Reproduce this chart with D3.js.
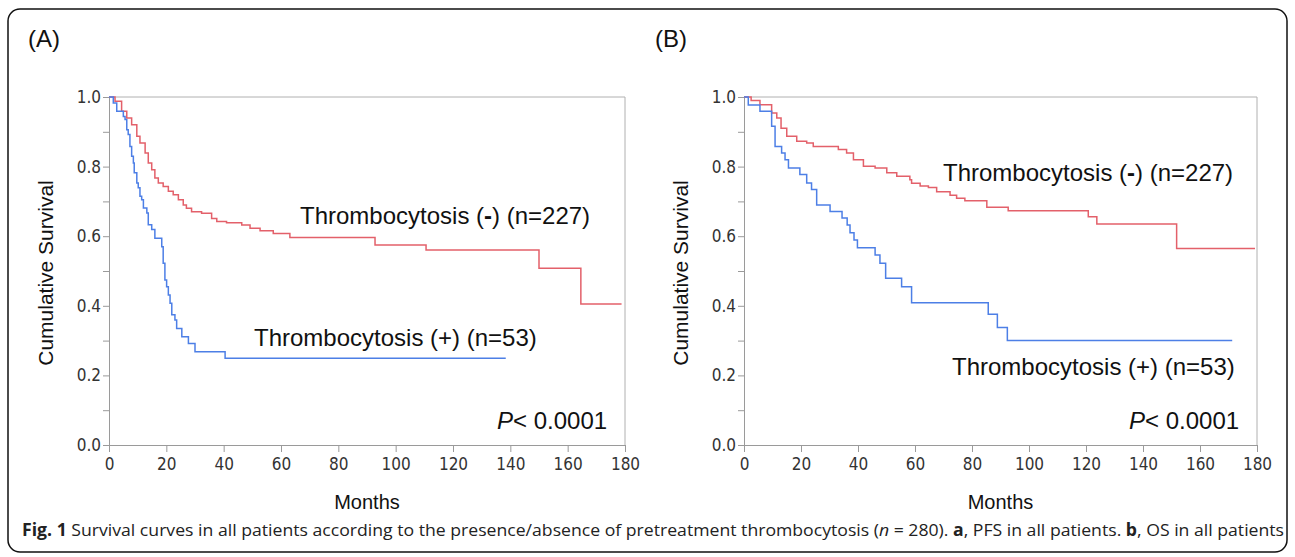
<!DOCTYPE html>
<meta charset="utf-8">
<style>
body { margin: 0; background: #fff; }
.axis text { font-family: "DejaVu Sans Condensed", "DejaVu Sans", sans-serif; font-size: 17px; fill: #333; }
.axis line, .axis path { stroke: #9a9a9a; }
.lbl { font-family: "Liberation Sans", Arial, sans-serif; fill: #111; }
</style>
<body>
<script src="https://d3js.org/d3.v7.min.js"></script>
<script>

// values: [month, survival] steps
var monthTicks = [0, 20, 40, 60, 80, 100, 120, 140, 160, 180];
var survTicks = [0, 0.2, 0.4, 0.6, 0.8, 1.0];

var pfsNeg = [[0,1],[2.1,0.988],[4.4,0.959],[6.2,0.94],[7.9,0.92],[9.7,0.887],[10.8,0.868],
  [12.6,0.839],[13.7,0.81],[14.9,0.791],[16,0.767],[17.2,0.753],[18.9,0.743],[20.7,0.729],
  [22.4,0.719],[24.2,0.705],[25.9,0.69],[27,0.68],[28.8,0.67],[32.3,0.666],[35.8,0.651],
  [37.6,0.642],[41,0.639],[46.3,0.632],[49.2,0.623],[52.7,0.616],[57.3,0.608],[63.1,0.596],
  [92.8,0.575],[110.6,0.56],[150,0.508],[164.6,0.405],[178.8,0.405]];
var pfsPos = [[0,1],[1.5,0.983],[2.7,0.959],[5,0.944],[5.6,0.935],[6.2,0.906],[6.7,0.892],
  [7.3,0.858],[7.9,0.83],[8.5,0.81],[8.8,0.782],[9.7,0.753],[10.2,0.739],[10.8,0.715],
  [11.4,0.705],[12,0.681],[13.2,0.667],[13.7,0.633],[14.9,0.619],[16,0.594],[18.4,0.57],
  [18.9,0.522],[19.5,0.474],[20.1,0.455],[20.7,0.431],[21.3,0.407],[21.9,0.374],[23,0.359],
  [23.6,0.335],[25.4,0.311],[27.7,0.292],[30,0.268],[40.5,0.249],[138.4,0.249]];
var osNeg = [[0,1],[2.5,0.99],[5.6,0.978],[9.7,0.954],[11.5,0.94],[13,0.91],[15,0.887],
  [18.5,0.873],[22,0.868],[24.3,0.858],[33.1,0.849],[36,0.839],[38.4,0.82],[41.9,0.801],
  [46,0.796],[50.1,0.782],[53.6,0.772],[58.2,0.762],[58.8,0.752],[61.8,0.744],[64.7,0.74],
  [67.6,0.728],[72.3,0.718],[74.6,0.709],[77.5,0.702],[85.2,0.683],[92.7,0.673],
  [120.8,0.656],[123.8,0.635],[151.8,0.565],[179.3,0.565]];
var osPos = [[0,1],[1.5,0.977],[5.6,0.959],[9.7,0.916],[10.9,0.858],[13.2,0.839],[14.4,0.82],
  [15.6,0.796],[19.6,0.777],[22,0.753],[23.7,0.734],[25.5,0.69],[30.2,0.671],[34.4,0.652],
  [36.2,0.632],[37.2,0.61],[38.6,0.589],[39.8,0.567],[46,0.546],[47.7,0.522],[49.7,0.479],
  [55.3,0.455],[58.8,0.409],[85.7,0.376],[88.9,0.338],[92.4,0.30],[171.3,0.30]];

var red = "#e3606a", blue = "#4d7fe6";

var svg = d3.select("body").append("svg")
    .attr("width", 1295)
    .attr("height", 557);

svg.append("rect")
    .attr("x", 8).attr("y", 9)
    .attr("width", 1279).attr("height", 543)
    .attr("rx", 12)
    .attr("fill", "none")
    .attr("stroke", "#111")
    .attr("stroke-width", 1.5);

function panel(opt) {
  var x = d3.scaleLinear().domain([0, 180]).range([opt.x0, opt.x1]);
  var y = d3.scaleLinear().domain([0, 1]).range([445, 97]);
  var g = svg.append("g");

  // frame
  g.append("path")
      .attr("d", "M" + x(0) + "," + y(1) + "H" + x(180) + "V" + y(0))
      .attr("fill", "none")
      .attr("stroke", "#b0b0b0");

  g.append("g")
      .attr("class", "axis")
      .attr("transform", "translate(0," + y(0) + ")")
      .call(d3.axisBottom(x).tickValues(monthTicks).tickSize(7).tickPadding(6).tickSizeOuter(0));

  g.append("g")
      .attr("class", "axis")
      .attr("transform", "translate(" + x(0) + ",0)")
      .call(d3.axisLeft(y).tickValues(d3.range(0, 1.01, 0.1)).tickSize(6).tickPadding(2).tickSizeOuter(0)
        .tickFormat(function(d) {
          var r = Math.round(d * 10);
          return r % 2 ? "" : d3.format(".1f")(d);
        }));

  var line = d3.line()
      .x(function(d) { return x(d[0]); })
      .y(function(d) { return y(d[1]); })
      .curve(d3.curveStepAfter);

  [[opt.neg, red], [opt.pos, blue]].forEach(function(s) {
    g.append("path")
        .datum(s[0])
        .attr("fill", "none")
        .attr("stroke", s[1])
        .attr("stroke-width", 1.5)
        .attr("d", line);
  });

  g.append("text").attr("class", "lbl")
      .attr("x", opt.tag[0]).attr("y", 47)
      .attr("font-size", 24)
      .text(opt.tag[1]);

  g.append("text").attr("class", "lbl")
      .attr("x", (opt.x0 + opt.x1) / 2).attr("y", 509)
      .attr("text-anchor", "middle")
      .attr("font-size", 20)
      .text("Months");

  g.append("text").attr("class", "lbl")
      .attr("transform", "translate(" + (opt.x0 - 56) + ",273) rotate(-90)")
      .attr("text-anchor", "middle")
      .attr("font-size", 21)
      .text("Cumulative Survival");

  var t1 = g.append("text").attr("class", "lbl")
      .attr("x", opt.negLbl[0]).attr("y", opt.negLbl[1])
      .attr("font-size", 24);
  t1.append("tspan").text("Thrombocytosis (");
  t1.append("tspan").attr("font-weight", "bold").text("-");
  t1.append("tspan").text(") (n=227)");

  g.append("text").attr("class", "lbl")
      .attr("x", opt.posLbl[0]).attr("y", opt.posLbl[1])
      .attr("font-size", 24)
      .text("Thrombocytosis (+) (n=53)");

  var p = g.append("text").attr("class", "lbl")
      .attr("x", opt.pLbl[0]).attr("y", opt.pLbl[1])
      .attr("font-size", 24);
  p.append("tspan").attr("font-style", "italic").text("P");
  p.append("tspan").text("< 0.0001");
}

panel({x0: 109, x1: 625, neg: pfsNeg, pos: pfsPos, tag: [28, "(A)"],
  negLbl: [300, 224], posLbl: [254, 346], pLbl: [497, 429]});
panel({x0: 744, x1: 1257, neg: osNeg, pos: osPos, tag: [655, "(B)"],
  negLbl: [943, 181], posLbl: [952, 375], pLbl: [1129, 429]});

var cap = svg.append("text")
    .attr("x", 22).attr("y", 536)
    .attr("font-family", "'Open Sans', sans-serif")
    .attr("font-size", 17)
    .attr("fill", "#222")
    .attr("textLength", 1262)
    .attr("lengthAdjust", "spacingAndGlyphs");
cap.append("tspan").attr("font-weight", "bold").text("Fig. 1");
cap.append("tspan").text(" Survival curves in all patients according to the presence/absence of pretreatment thrombocytosis (");
cap.append("tspan").attr("font-style", "italic").text("n");
cap.append("tspan").text(" = 280). ");
cap.append("tspan").attr("font-weight", "bold").text("a");
cap.append("tspan").text(", PFS in all patients. ");
cap.append("tspan").attr("font-weight", "bold").text("b");
cap.append("tspan").text(", OS in all patients");

</script>
</body>
